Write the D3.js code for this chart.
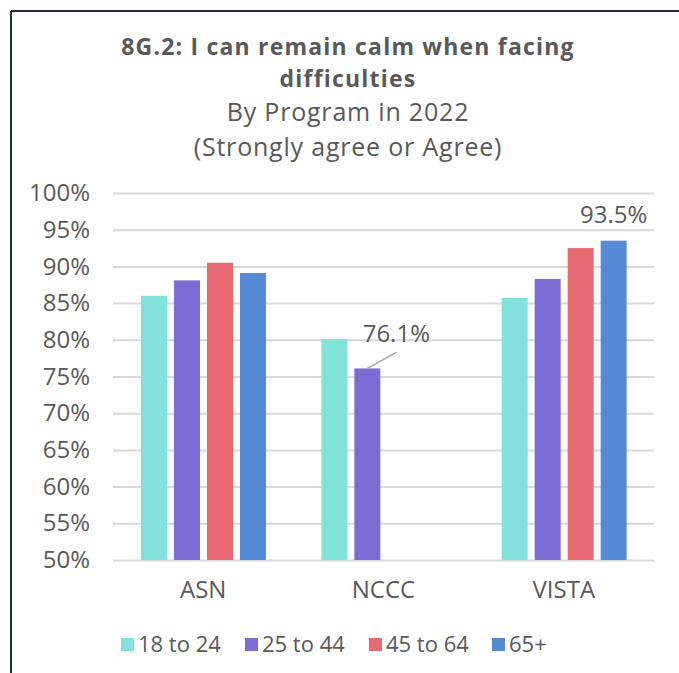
<!DOCTYPE html>
<html>
<head>
<meta charset="utf-8">
<script src="https://cdn.jsdelivr.net/npm/d3@7"></script>
<style>
  body { margin: 0; background: #fff; }
  svg { display: block; font-family: "Open Sans", Lato, sans-serif; }
  .tick-label, .cat-label, .legend-label, .data-label { fill: #595959; }
</style>
</head>
<body>
<svg id="chart"></svg>
<script>
// chart size, matches the window
const width = 679;
const height = 673;

// data
const programs = ['ASN', 'NCCC', 'VISTA'];
const groups = ['18 to 24', '25 to 44', '45 to 64', '65+'];
const asnValues = [86.0, 88.1, 90.5, 89.1];
const ncccValues = [80.1, 76.1, null, null];
const vistaValues = [85.7, 88.3, 92.5, 93.5];
const yTicks = [50, 55, 60, 65, 70, 75, 80, 85, 90, 95, 100];
const colors = ['#80e2d9', '#7c6cd4', '#e66a70', '#578ad4'];

// title wraps onto two lines like the original
const titleLines = ['8G.2: I can remain calm when facing', 'difficulties'];
const subtitleLines = ['By Program in 2022', '(Strongly agree or Agree)'];

// only two bars carry a value label
const labelled = [
  { program: 'NCCC', group: '25 to 44', leader: true },
  { program: 'VISTA', group: '65+', leader: false }
];

const rows = programs.map((p, i) => ({
  program: p,
  values: [asnValues, ncccValues, vistaValues][i]
}));

const plot = { left: 113, right: 654, top: 193, bottom: 560 };
const fontFamily = '"Open Sans", Lato, sans-serif';

const svg = d3.select('#chart')
  .attr('width', width)
  .attr('height', height);

// frame lines (top and left only)
svg.append('line')
  .attr('x1', 11).attr('x2', width).attr('y1', 11).attr('y2', 11)
  .attr('stroke', '#1f2d4a').attr('stroke-width', 2);
svg.append('line')
  .attr('x1', 11).attr('x2', 11).attr('y1', 11).attr('y2', height)
  .attr('stroke', '#1f2d4a').attr('stroke-width', 2);

// scales
const x0 = d3.scaleBand()
  .domain(programs)
  .range([plot.left, plot.right])
  .padding(0);

const x1 = d3.scaleBand()
  .domain(groups)
  .range([24.5, 156.5])
  .paddingInner(0.212)
  .paddingOuter(0.106);

const y = d3.scaleLinear()
  .domain([50, 100])
  .range([plot.bottom, plot.top]);

const color = d3.scaleOrdinal()
  .domain(groups)
  .range(colors);

drawTitles();
drawAxis();
drawBars();
drawLabels();
drawLegend();

function drawTitles() {
  const cx = 348;
  const t = svg.append('g').attr('id', 'titles').attr('text-anchor', 'middle');

  t.selectAll('.title-line')
    .data(titleLines)
    .enter()
    .append('text')
    .attr('class', 'title-line')
    .attr('x', cx)
    .attr('y', (d, i) => 55 + i * 32)
    .attr('font-size', 23).attr('font-weight', 'bold').attr('fill', '#595959')
    .attr('letter-spacing', 1.2)
    .text(d => d);

  t.selectAll('.subtitle-line')
    .data(subtitleLines)
    .enter()
    .append('text')
    .attr('class', 'subtitle-line')
    .attr('x', cx)
    .attr('y', (d, i) => 121 + i * 35)
    .attr('font-size', 25).attr('fill', '#595959')
    .attr('letter-spacing', 0.8)
    .text(d => d);
}

function drawAxis() {
  const yAxis = d3.axisLeft(y)
    .tickValues(yTicks)
    .tickSize(-(plot.right - plot.left))
    .tickPadding(23)
    .tickFormat(d => d + '%');

  const yGroup = svg.append('g')
    .attr('id', 'y-axis')
    .attr('transform', translate(plot.left, 0))
    .call(yAxis);

  yGroup.select('.domain').remove();
  yGroup.selectAll('.tick line')
    .attr('stroke', '#d9d9d9')
    .attr('stroke-width', 2);
  yGroup.selectAll('.tick text')
    .attr('class', 'tick-label')
    .attr('font-size', 24)
    .attr('font-family', fontFamily)
    .attr('fill', '#595959');

  const xAxis = d3.axisBottom(x0).tickSize(0).tickPadding(21);
  const xGroup = svg.append('g')
    .attr('id', 'x-axis')
    .attr('transform', translate(0, plot.bottom))
    .call(xAxis);
  xGroup.select('.domain').remove();
  xGroup.selectAll('.tick text')
    .attr('class', 'cat-label')
    .attr('font-size', 24)
    .attr('font-family', fontFamily)
    .attr('fill', '#595959');
}

function drawBars() {
  const group = svg.append('g').attr('id', 'bars');

  const programGroups = group.selectAll('g')
    .data(rows)
    .enter()
    .append('g')
    .attr('transform', d => translate(x0(d.program), 0));

  programGroups.selectAll('rect')
    .data(d => groups.map((g, i) => ({ group: g, value: d.values[i] }))
      .filter(v => v.value !== null))
    .enter()
    .append('rect')
    .attr('x', d => x1(d.group))
    .attr('width', x1.bandwidth())
    .attr('y', d => y(d.value))
    .attr('height', d => y(50) - y(d.value))
    .attr('fill', d => color(d.group));
}

function drawLabels() {
  const group = svg.append('g').attr('id', 'labels');

  labelled.forEach(l => {
    const row = rows.find(r => r.program === l.program);
    const value = row.values[groups.indexOf(l.group)];
    const bx = x0(l.program) + x1(l.group) + x1.bandwidth() / 2;
    const by = y(value);

    if (l.leader) {
      group.append('line')
        .attr('x1', bx).attr('y1', by)
        .attr('x2', bx + 29).attr('y2', by - 16)
        .attr('stroke', '#a6a6a6').attr('stroke-width', 1.5);
      group.append('text')
        .attr('class', 'data-label')
        .attr('x', bx + 29).attr('y', by - 26)
        .attr('text-anchor', 'middle')
        .attr('font-size', 24)
        .text(value.toFixed(1) + '%');
    } else {
      group.append('text')
        .attr('class', 'data-label')
        .attr('x', bx).attr('y', by - 18)
        .attr('text-anchor', 'middle')
        .attr('font-size', 24)
        .text(value.toFixed(1) + '%');
    }
  });
}

function drawLegend() {
  const legendX = [121, 245, 369, 492];
  const group = svg.append('g').attr('id', 'legend');

  const items = group.selectAll('g')
    .data(groups)
    .enter()
    .append('g')
    .attr('transform', (d, i) => translate(legendX[i], 638));

  items.append('rect')
    .attr('width', 13)
    .attr('height', 13)
    .attr('fill', d => color(d));

  items.append('text')
    .attr('class', 'legend-label')
    .attr('x', 17)
    .attr('y', 14)
    .attr('font-size', 22)
    .text(d => d);
}

function translate(x, y) {
  return 'translate(' + String(x) + ',' + String(y) + ')';
}
</script>
</body>
</html>
